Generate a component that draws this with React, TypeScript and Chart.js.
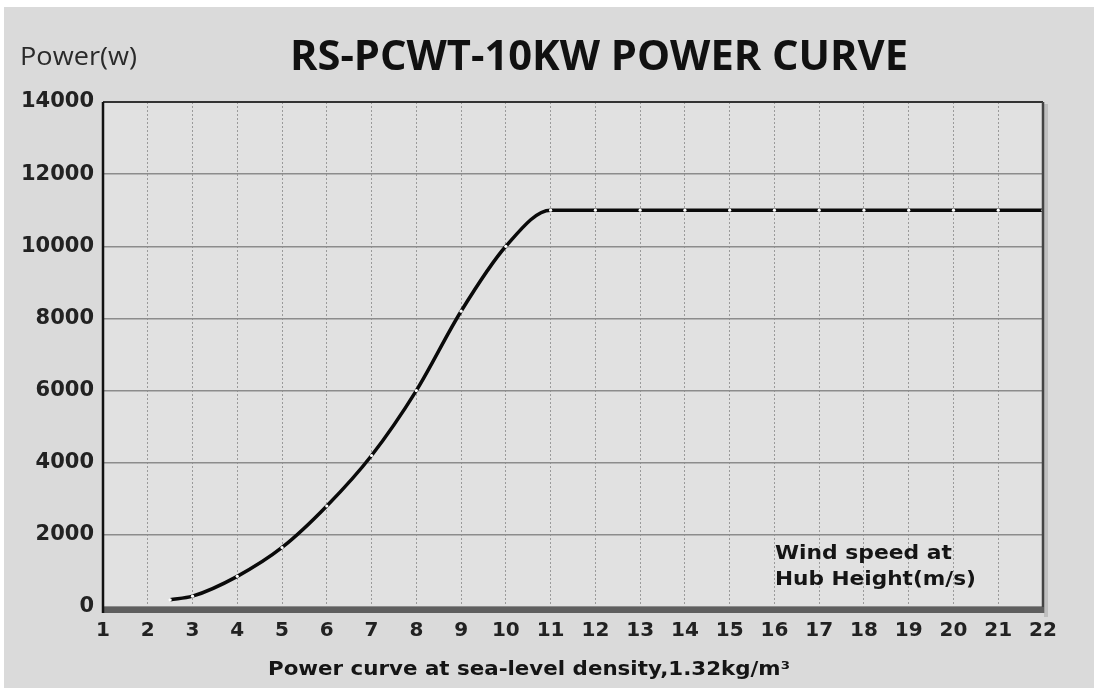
import React, { useEffect, useRef } from "react";
import { Chart, registerables } from "chart.js";

Chart.register(...registerables);

const windSpeed = [2.5, 3, 4, 5, 6, 7, 8, 9, 10, 11, 12, 13, 14, 15, 16, 17, 18, 19, 20, 21, 22];
const powerW = [200, 300, 850, 1650, 2800, 4200, 6000, 8200, 10000, 11000, 11000, 11000, 11000, 11000, 11000, 11000, 11000, 11000, 11000, 11000, 11000];

const chartTitle = "RS-PCWT-10KW POWER CURVE";
const yAxisLabel = "Power(w)";
const xAxisLabel = "Power curve at sea-level density,1.32kg/m³";
const noteLines = ["Wind speed at", "Hub Height(m/s)"];

const X_MIN = 1;
const X_MAX = 22;
const Y_MIN = 0;
const Y_MAX = 14000;
const Y_STEP = 2000;

// canvas sits at page (4,7)
const OX = 4;
const OY = 7;

function fitText(ctx: CanvasRenderingContext2D, text: string, font: string, x: number, baseline: number, width: number, color: string) {
  ctx.save();
  ctx.font = font;
  ctx.fillStyle = color;
  ctx.textAlign = "left";
  ctx.textBaseline = "alphabetic";
  const w = ctx.measureText(text).width;
  const sx = width / w;
  ctx.translate(x, baseline);
  ctx.scale(sx, 1);
  ctx.fillText(text, 0, 0);
  ctx.restore();
}

const decorPlugin = {
  id: "decor",
  beforeDraw(chart: any) {
    const { ctx, chartArea: a } = chart;
    ctx.save();
    ctx.fillStyle = "#e1e1e1";
    ctx.fillRect(a.left, a.top, a.right - a.left, a.bottom - a.top);
    ctx.restore();
  },
  afterDatasetsDraw(chart: any) {
    const { ctx, chartArea: a } = chart;
    ctx.save();
    // right shadow
    ctx.fillStyle = "rgba(0,0,0,0.12)";
    ctx.fillRect(a.right + 1, a.top + 2, 4, a.bottom - a.top + 8);
    // top border
    ctx.strokeStyle = "#333";
    ctx.lineWidth = 2;
    ctx.beginPath();
    ctx.moveTo(a.left, a.top);
    ctx.lineTo(a.right, a.top);
    ctx.stroke();
    // right border
    ctx.strokeStyle = "#444";
    ctx.lineWidth = 2.5;
    ctx.beginPath();
    ctx.moveTo(a.right, a.top);
    ctx.lineTo(a.right, a.bottom + 6);
    ctx.stroke();
    // bottom band
    ctx.fillStyle = "#5e5e5e";
    ctx.fillRect(a.left, a.bottom, a.right - a.left + 1, 6);
    // left border
    ctx.strokeStyle = "#111";
    ctx.lineWidth = 2.5;
    ctx.beginPath();
    ctx.moveTo(a.left, a.top);
    ctx.lineTo(a.left, a.bottom + 6);
    ctx.stroke();
    ctx.restore();

    fitText(ctx, chartTitle, "bold 42px 'Open Sans'", 290 - OX, 70 - OY, 618, "#111");
    fitText(ctx, yAxisLabel, "500 26px 'Open Sans'", 20 - OX, 65 - OY, 117, "#2a2a2a");
    fitText(ctx, xAxisLabel, "bold 19px 'DejaVu Sans'", 268 - OX, 675 - OY, 522, "#151515");
    fitText(ctx, noteLines[0], "bold 20px 'DejaVu Sans'", 775 - OX, 559 - OY, 177, "#151515");
    fitText(ctx, noteLines[1], "bold 20px 'DejaVu Sans'", 775 - OX, 585 - OY, 201, "#151515");
  },
};

export default function App() {
  const ref = useRef<HTMLCanvasElement | null>(null);

  useEffect(() => {
    if (!ref.current) return;
    const chart = new Chart(ref.current, {
      type: "line",
      data: {
        datasets: [
          {
            data: windSpeed.map((x, i) => ({ x, y: powerW[i] })),
            borderColor: "#0a0a0a",
            borderWidth: 3.5,
            cubicInterpolationMode: "monotone",
            pointRadius: 1.6,
            pointBackgroundColor: "#ffffff",
            pointBorderWidth: 0,
            pointBorderColor: "#ffffff",
            fill: false,
          },
        ],
      },
      options: {
        animation: false,
        responsive: false,
        maintainAspectRatio: false,
        layout: { padding: { top: 95, left: 0, right: 51, bottom: 0 } },
        plugins: {
          legend: { display: false },
          tooltip: { enabled: false },
          title: { display: false },
        },
        scales: {
          x: {
            type: "linear",
            min: X_MIN,
            max: X_MAX,
            afterFit: (s: any) => {
              s.height = 81;
            },
            ticks: {
              stepSize: 1,
              color: "#222",
              font: { family: "'DejaVu Sans'", weight: "bold", size: 20 },
              padding: 12,
              maxRotation: 0,
              autoSkip: false,
              callback: (v: any) => String(v),
            },
            grid: {
              color: "#9a9a9a",
              lineWidth: 1,
              drawTicks: false,
            },
            border: { display: false, dash: [2, 2] },
          },
          y: {
            min: Y_MIN,
            max: Y_MAX,
            afterFit: (s: any) => {
              s.width = 99;
            },
            ticks: {
              stepSize: Y_STEP,
              color: "#222",
              font: { family: "'DejaVu Sans'", weight: "bold", size: 21 },
              padding: 9,
              callback: (v: any) => String(v),
            },
            grid: {
              color: "#8c8c8c",
              lineWidth: 1.5,
              drawTicks: false,
            },
            border: { display: false },
          },
        },
      },
      plugins: [decorPlugin],
    });
    return () => chart.destroy();
  }, []);

  return (
    <div
      style={{
        position: "fixed",
        left: OX,
        top: OY,
        width: 1094 - OX,
        height: 688 - OY,
        background: "#dadada",
      }}
    >
      <canvas ref={ref} width={1094 - OX} height={688 - OY} style={{ display: "block" }} />
    </div>
  );
}
